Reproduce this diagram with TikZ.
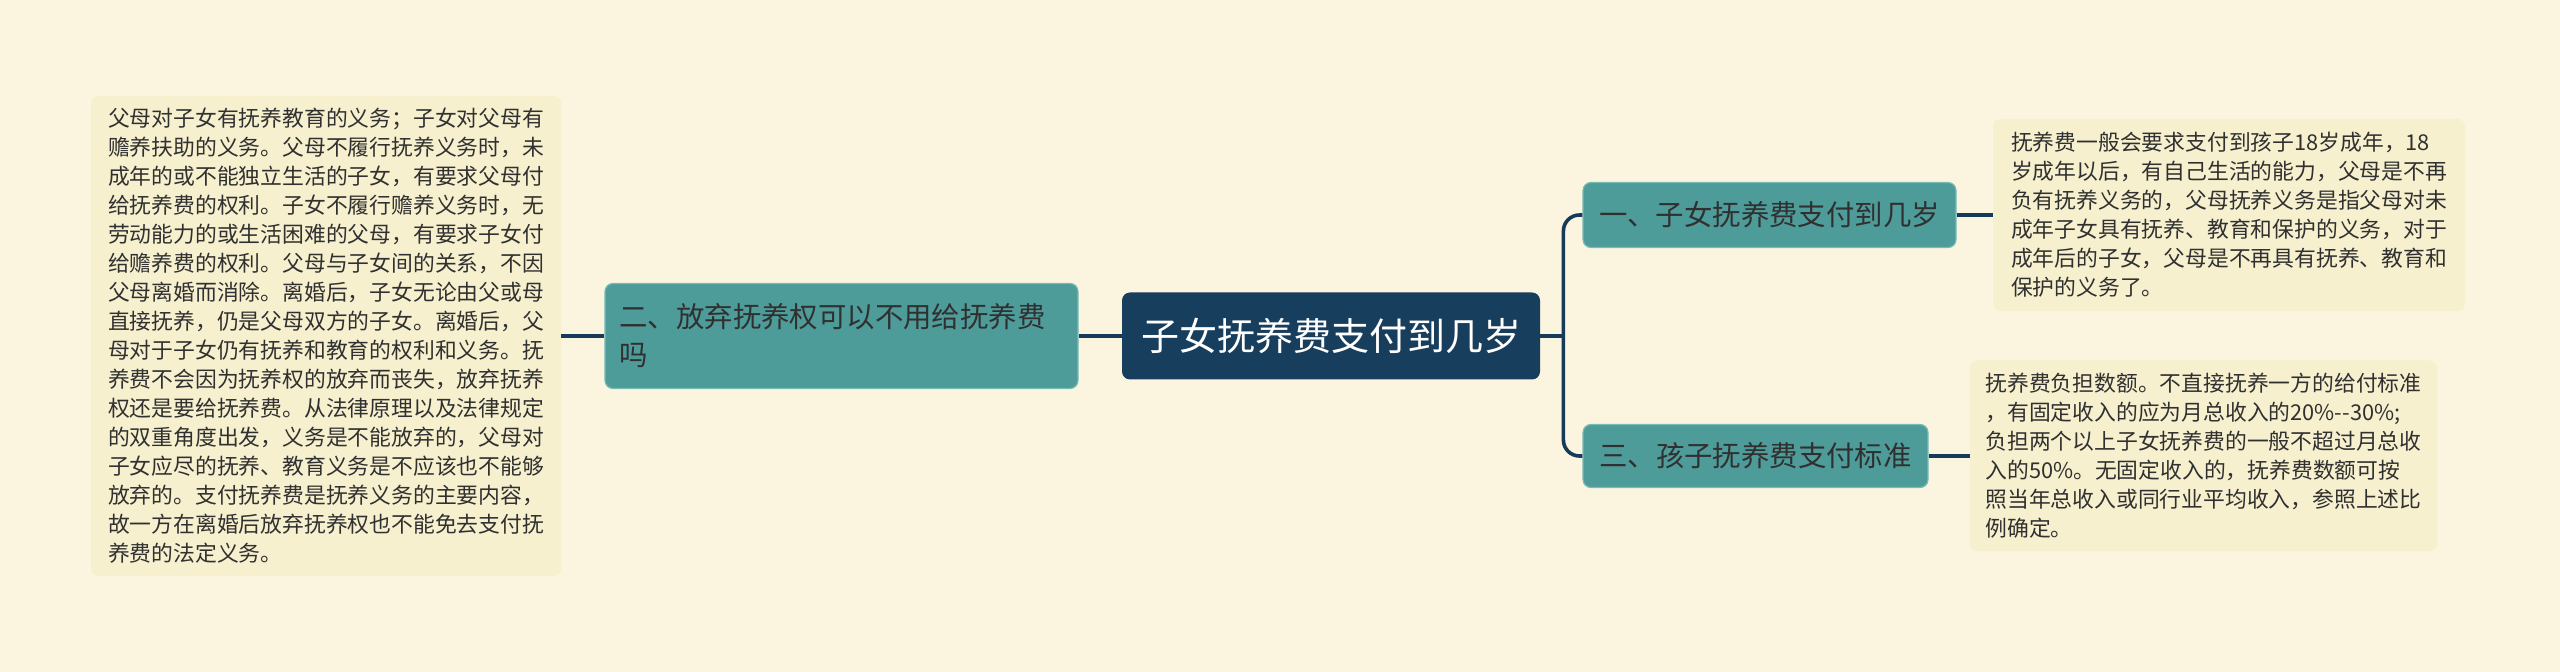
\documentclass[tikz,border=0pt]{standalone}
\usepackage{fontspec}
\setmainfont{Noto Sans CJK SC}
\usepackage{xcolor}
\usetikzlibrary{positioning}
\definecolor{bgCream}{RGB}{251,245,223}
\definecolor{noteFill}{RGB}{246,240,207}
\definecolor{rootBlue}{RGB}{24,62,93}
\definecolor{branchTeal}{RGB}{78,156,154}
\definecolor{branchEdge}{RGB}{120,186,180}
\definecolor{linkBlue}{RGB}{22,58,90}
\definecolor{inkGray}{RGB}{48,48,48}

\begin{document}
\begin{tikzpicture}[
    x=0.5pt, y=-0.5pt,
    rootbox/.style={rectangle, rounded corners=4pt, fill=rootBlue, text=white,
                    minimum width=209pt, minimum height=43.5pt, font=\fontsize{19}{23}\selectfont},
    branch/.style={rectangle, rounded corners=4pt, fill=branchTeal, draw=branchEdge, line width=0.6pt,
                   text=inkGray, font=\fontsize{14.2}{19}\selectfont, align=left, inner xsep=6pt},
    note/.style={rectangle, rounded corners=4pt, fill=noteFill, text=inkGray, align=left,
                 font=\fontsize{10.9}{14.5}\selectfont, inner xsep=7pt},
    link/.style={draw=linkBlue, line width=1.8pt, rounded corners=8pt},
  ]
    \fill[bgCream] (0,0) rectangle (2560,672);
    \useasboundingbox (0,0) rectangle (2560,672);

    % Root
    \node[rootbox] (root) at (1331,336) {子女抚养费支付到几岁};

    % Left branch
    \node[branch, left=21.5pt of root, minimum width=236.5pt, minimum height=52.5pt,
          text width=222pt] (leftB) {二、放弃抚养权可以不用给抚养费\\吗};
    \node[note, left=21.5pt of leftB, minimum width=235pt, minimum height=240pt] (leftN)
      {父母对子女有抚养教育的义务；子女对父母有\\
       赡养扶助的义务。父母不履行抚养义务时，未\\
       成年的或不能独立生活的子女，有要求父母付\\
       给抚养费的权利。子女不履行赡养义务时，无\\
       劳动能力的或生活困难的父母，有要求子女付\\
       给赡养费的权利。父母与子女间的关系，不因\\
       父母离婚而消除。离婚后，子女无论由父或母\\
       直接抚养，仍是父母双方的子女。离婚后，父\\
       母对于子女仍有抚养和教育的权利和义务。抚\\
       养费不会因为抚养权的放弃而丧失，放弃抚养\\
       权还是要给抚养费。从法律原理以及法律规定\\
       的双重角度出发，义务是不能放弃的，父母对\\
       子女应尽的抚养、教育义务是不应该也不能够\\
       放弃的。支付抚养费是抚养义务的主要内容，\\
       故一方在离婚后放弃抚养权也不能免去支付抚\\
       养费的法定义务。};

    % Right branches
    \node[branch, right=21pt of root, yshift=60.5pt, minimum width=186.5pt,
          minimum height=32.5pt] (upperB) {一、子女抚养费支付到几岁};
    \node[branch, right=21pt of root, yshift=-60pt, minimum width=172.5pt,
          minimum height=31.5pt] (lowerB) {三、孩子抚养费支付标准};
    \node[note, right=18pt of upperB, minimum width=236pt, minimum height=96pt] (upperN)
      {抚养费一般会要求支付到孩子18岁成年，18\\
       岁成年以后，有自己生活的能力，父母是不再\\
       负有抚养义务的，父母抚养义务是指父母对未\\
       成年子女具有抚养、教育和保护的义务，对于\\
       成年后的子女，父母是不再具有抚养、教育和\\
       保护的义务了。};
    \node[note, right=20.5pt of lowerB, minimum width=233.5pt, minimum height=95.5pt] (lowerN)
      {抚养费负担数额。不直接抚养一方的给付标准\\
       ，有固定收入的应为月总收入的20\%-{}-30\%;\\
       负担两个以上子女抚养费的一般不超过月总收\\
       入的50\%。无固定收入的，抚养费数额可按\\
       照当年总收入或同行业平均收入，参照上述比\\
       例确定。};

    % Links
    \coordinate[right=11.5pt of root.east] (trunk);
    \draw[link] (root.east) -- (trunk);
    \draw[link] (upperB.west) -| (trunk) |- (lowerB.west);
    \draw[link] (root.west) -- (leftB.east);
    \draw[link] (leftB.west) -- (leftN.east);
    \draw[link] (upperB.east) -- (upperN.west);
    \draw[link] (lowerB.east) -- (lowerN.west);
\end{tikzpicture}
\end{document}
